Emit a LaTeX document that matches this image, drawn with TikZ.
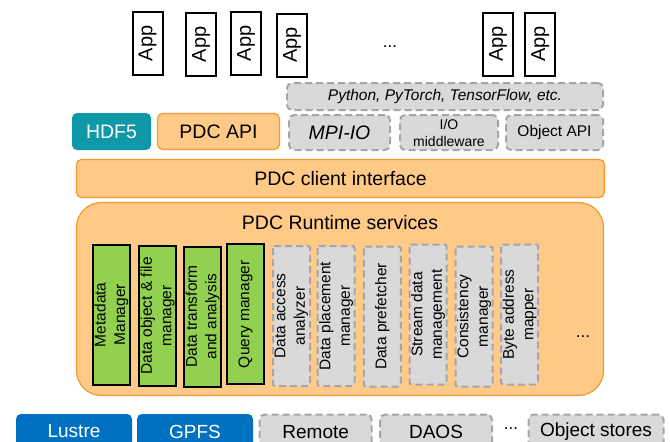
\documentclass[tikz,border=0pt]{standalone}
\usepackage{fontspec}
\setmainfont{Liberation Sans}
\definecolor{orfill}{HTML}{FFCA88}
\definecolor{ordraw}{HTML}{F29A30}
\definecolor{teal5}{HTML}{0F98A8}
\definecolor{blue5}{HTML}{0070C0}
\definecolor{green5}{HTML}{92D050}
\definecolor{grayfill}{HTML}{D9D9D9}
\definecolor{graydraw}{HTML}{A6A6A6}
\begin{document}
\begin{tikzpicture}[x=1pt,y=-1pt,
  every node/.style={inner sep=0pt, outer sep=0pt},
  appbox/.style={draw=black, line width=2pt, fill=white, rotate=90, minimum width=63, minimum height=30, font=\fontsize{20}{22}\selectfont},
  orbox/.style={draw=ordraw, line width=1.2pt, fill=orfill, rounded corners=5pt},
  grbox/.style={draw=graydraw, line width=2pt, dash pattern=on 7pt off 4pt, fill=grayfill, rounded corners=5pt},
  colgreen/.style={draw=black, line width=2pt, fill=green5, rotate=90, minimum width=140, minimum height=37, align=center, font=\fontsize{15.5}{19.5}\selectfont},
  colgray/.style={grbox, rounded corners=2pt, rotate=90, minimum width=140, minimum height=37, align=center, font=\fontsize{15.5}{19.5}\selectfont},
  fsbox/.style={rounded corners=5pt, minimum height=35, font=\fontsize{19}{21}\selectfont},
  big/.style={font=\fontsize{19.5}{22}\selectfont},
  dots/.style={font=\fontsize{17}{19}\selectfont}
]
\clip (0,0) rectangle (670,442);
% apps
\node[appbox] (a1) at (147.5,43.5) {App};
\node[appbox] (a2) at (201,44.5) {App};
\node[appbox] (a3) at (246,43.5) {App};
\node[appbox] (a4) at (292,45) {App};
\node[dots] (adots) at (390,47) {...};
\node[appbox] (a5) at (498,44) {App};
\node[appbox] (a6) at (540.3,44) {App};
% middleware row
\node[grbox, minimum width=316, minimum height=27, font=\fontsize{15.5}{18}\selectfont\itshape] (py) at (445,96.5) {Python, PyTorch, TensorFlow, etc.};
\node[fill=teal5, rounded corners=5pt, minimum width=79, minimum height=37, text=white, big] (hdf) at (111.5,131.5) {HDF5};
\node[orbox, minimum width=122, minimum height=36, big] (api) at (218.5,131.5) {PDC API};
\node[grbox, minimum width=101, minimum height=35, big, font=\fontsize{19.5}{22}\selectfont\itshape] (mpi) at (339.5,132.5) {MPI-IO};
\node[grbox, minimum width=98, minimum height=35, align=center, font=\fontsize{14}{17}\selectfont] (iom) at (449,132.5) {I/O\\middleware};
\node[grbox, minimum width=97, minimum height=35, font=\fontsize{15.5}{18}\selectfont] (oapi) at (554.5,132.5) {Object API};
% client interface
\node[orbox, minimum width=528, minimum height=38, big] (cli) at (340.5,178.5) {PDC client interface};
% runtime
\node[orbox, rounded corners=25pt, minimum width=527, minimum height=193] (rt) at (340,299) {};
\node[big, anchor=center] (rtl) at (340,223) {PDC Runtime services};
\node[colgreen] (c1) at (111.4,314.7) {Metadata\\Manager};
\node[colgreen] (c2) at (157.5,315.9) {Data object \& file\\manager};
\node[colgreen] (c3) at (202.7,316.5) {Data transform\\and analysis};
\node[colgreen] (c4) at (245.5,314.2) {Query manager};
\node[colgray] (c5) at (291.5,316) {Data access\\analyzer};
\node[colgray] (c6) at (336,316) {Data placement\\manager};
\node[colgray] (c7) at (382.3,316.5) {Data prefetcher};
\node[colgray] (c8) at (428,314.5) {Stream data\\management};
\node[colgray] (c9) at (474,316.5) {Consistency\\manager};
\node[colgray] (c10) at (519.7,314.5) {Byte address\\mapper};
\node[dots] (rdots) at (583,337) {...};
% storage
\node[fsbox, fill=blue5, text=white, minimum width=116] (lus) at (74,431.5) {Lustre};
\node[fsbox, fill=blue5, text=white, minimum width=116] (gpfs) at (195,431.5) {GPFS};
\node[fsbox, grbox, minimum width=112, font=\fontsize{19}{21}\selectfont] (rem) at (315.7,432) {Remote};
\node[fsbox, grbox, minimum width=112, font=\fontsize{19}{21}\selectfont] (daos) at (436,432) {DAOS};
\node[dots] (sdots) at (511,429) {...};
\node[fsbox, grbox, minimum width=135, font=\fontsize{19}{21}\selectfont] (obj) at (596,432) {Object stores};
\end{tikzpicture}
\end{document}
